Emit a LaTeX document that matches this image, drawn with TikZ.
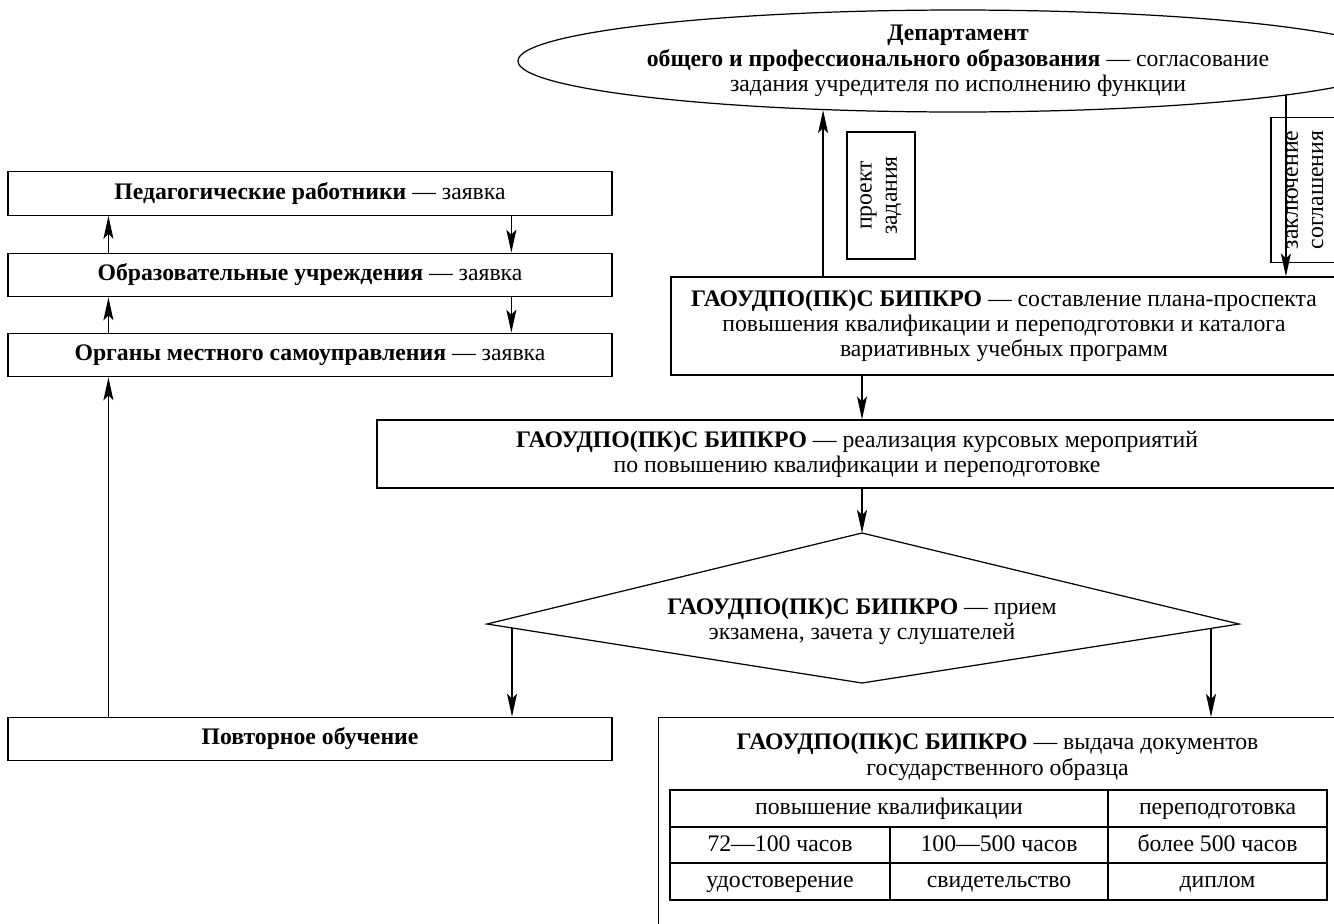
\documentclass[tikz,border=0pt]{standalone}
\usepackage{fontspec}
\setmainfont{Liberation Serif}
\usetikzlibrary{calc, arrows.meta, shapes.geometric, positioning}
\tikzstyle{block} = [draw, rectangle, inner sep=0pt, align=center]
\tikzstyle{lbox} = [block, minimum width=12.08cm, minimum height=0.87cm]
\tikzstyle{vtag} = [block, rotate=90, minimum height=1.36cm]
\tikzstyle{cell} = [text height=2ex, text depth=0.5ex]
\newcommand{\gaou}{\textbf{ГАОУДПО(ПК)С БИПКРО} — }

\begin{document}
\begin{tikzpicture}[x=0.02cm,y=-0.02cm,line width=0.7pt,
  >={Stealth[length=4.6mm,width=2mm,inset=1mm]},
  font=\fontsize{13.5}{14.4}\selectfont]
  \useasboundingbox (0,0) rectangle (1334,923);
  \clip (0,0) rectangle (1334,923);

  \node [lbox] (ped) at (310,193.5) {\textbf{Педагогические работники} — заявка};
  \node [lbox] (obr) at (310,275) {\textbf{Образовательные учреждения} — заявка};
  \node [lbox] (org) at (310,355) {\textbf{Органы местного самоуправления} — заявка};
  \node [lbox] (povt) at (310,739) {\textbf{Повторное обучение}};

  \node [draw, ellipse, inner sep=0pt, align=center, minimum width=14.88cm,
    minimum height=2.04cm] (dep) at (958,61)
    {\textbf{Департамент}\\ \textbf{общего и профессионального образования} — согласование\\
     задания учредителя по исполнению функции};
  \node [block, minimum width=13.32cm, minimum height=1.96cm] (plan) at (1004,326)
    {\gaou составление плана-проспекта\\ повышения квалификации и переподготовки и каталога\\
     вариативных учебных программ};
  \node [vtag, minimum width=2.54cm] (proj) at (881,195.5) {проект\\ задания};
  \node [vtag, minimum width=2.9cm] (zakl) at (1305,190) {заключение\\ соглашения};
  \node [block, minimum width=19.2cm, minimum height=1.36cm] (real) at (857,454)
    {\gaou реализация курсовых мероприятий\\ по повышению квалификации и переподготовке};

  \coordinate (dtop) at (862,533);
  \coordinate (dleft) at (487,624);
  \coordinate (dright) at (1239,624);
  \coordinate (dbot) at (862,683);
  \draw (dtop) -- (dleft) -- (dbot) -- (dright) -- cycle;
  \node [align=center] (exam) at (862,621) {\gaou прием\\ экзамена, зачета у слушателей};
  \coordinate (dl) at ($(dleft)!0.0667!(dbot)$);
  \coordinate (dr) at ($(dright)!0.0743!(dbot)$);

  \node [block, anchor=north west, minimum width=13.56cm, minimum height=5cm] (vyd) at (658,717) {};
  \node [align=center, below=0.2cm of vyd.north] (vydtext) {\gaou выдача документов\\ государственного образца};

  \draw (670,790) rectangle (1327,900);
  \draw (670,827) -- (1327,827) (670,863) -- (1327,863);
  \draw (1108,790) -- (1108,900) (890,827) -- (890,900);
  \node [cell] at (889,808.5) {повышение квалификации};
  \node [cell] at (1217.5,808.5) {переподготовка};
  \node [cell] at (780,845) {72—100 часов};
  \node [cell] at (999,845) {100—500 часов};
  \node [cell] at (1217.5,845) {более 500 часов};
  \node [cell] at (780,881.5) {удостоверение};
  \node [cell] at (999,881.5) {свидетельство};
  \node [cell] at (1217.5,881.5) {диплом};

  \draw[->] ([xshift=2.02cm]obr.north west) -- ([xshift=2.02cm]ped.south west);
  \draw[->] ([xshift=2.02cm]org.north west) -- ([xshift=2.02cm]obr.south west);
  \draw[->] ([xshift=10.08cm]ped.south west) -- ([xshift=10.08cm]obr.north west);
  \draw[->] ([xshift=10.08cm]obr.south west) -- ([xshift=10.08cm]org.north west);
  \draw[->] ([xshift=2.02cm]povt.north west) -- ([xshift=2.02cm]org.south west);
  \draw[->] (dep.-160 |- plan.north) -- (dep.-160);
  \draw[->] (dep.-6.1) -- (dep.-6.1 |- plan.north);
  \draw[->] (dtop |- plan.south) -- (dtop |- real.north);
  \draw[->] (dtop |- real.south) -- (dtop);
  \draw[->] (dl) -- (dl |- povt.north);
  \draw[->] (dr) -- (dr |- vyd.north);
\end{tikzpicture}
\end{document}
